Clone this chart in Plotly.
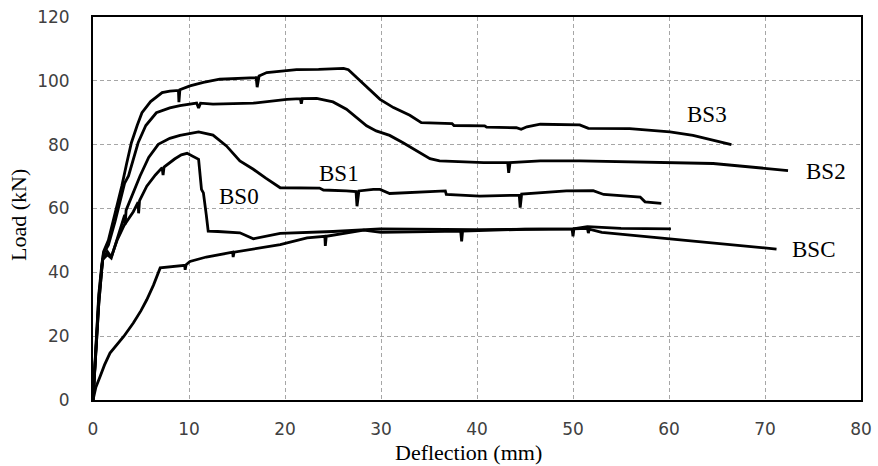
import plotly.graph_objects as go

# ---- data (Deflection mm, Load kN) ----
bs3_x = [0, 0.3, 0.6, 0.9, 1.1, 1.6, 2.2, 3.0, 3.5, 4.0, 4.6, 5.1, 6.0, 7.2, 8.0, 8.9, 8.95, 9.05, 10.1, 11.5, 13.2,
         15.0, 17.0, 17.1, 17.3, 18.1, 19.5, 21.2, 23.5, 26.1, 26.6, 27.5, 28.5, 29.9, 31.3, 33.0, 34.2, 37.4, 37.6,
         40.8, 41.0, 44.1, 44.6, 45.2, 46.6, 50.7, 51.6, 55.9, 60.1, 62.5, 66.5]
bs3_y = [0, 18, 33, 42, 46.5, 50, 57, 67, 74, 80.6, 86, 90, 93.5, 96.3, 96.8, 97, 93.3, 97.2, 98.4, 99.5, 100.5,
         100.8, 101, 98, 101.5, 102.6, 103.0, 103.5, 103.6, 103.9, 103.5, 101, 98, 94.2, 91.6, 89.2, 86.9, 86.6, 86.0,
         85.9, 85.5, 85.3, 84.8, 85.6, 86.4, 86.2, 85.1, 85, 84, 82.9, 80]

bs2_x = [0, 0.3, 0.6, 0.9, 1.1, 1.6, 2.3, 3.3, 3.7, 4.7, 5.5, 6.6, 8.0, 9.06, 10.8, 11.0, 11.2, 12.5, 16.7, 20.2,
         21.6, 21.7, 21.8, 23.3, 25.0, 26.4, 27.5, 28.5, 29.5, 30.9, 32.3, 35.1, 36.1, 40.7, 43.2, 43.3, 43.45, 46.6,
         50.7, 58.0, 64.6, 72.4]
bs2_y = [0, 17, 32, 41, 46, 48.5, 56, 68, 70.2, 80.6, 86, 90, 91.5, 92.2, 93, 91.5, 93, 92.7, 93, 94.2,
         94.4, 92.8, 94.4, 94.5, 93.4, 91.1, 88.5, 85.9, 84.3, 82.9, 80.6, 75.6, 74.9, 74.4, 74.4, 71.2, 74.4, 74.9,
         74.9, 74.4, 74.1, 71.9]

bs1_x = [0, 0.3, 0.6, 1.0, 1.5, 1.9, 2.5, 3.3, 3.35, 3.45, 4.9, 5.8, 6.8, 8.0, 9.06, 11.0, 12.5, 13.9, 15.3, 16.7,
         18.0, 19.5, 23.6, 24.0, 26.4, 27.4, 27.5, 27.7, 29.2, 29.9, 30.9, 36.7, 36.8, 40.3, 44.4, 44.5, 44.65, 49.3,
         52.1, 53.2, 57.0, 57.5, 59.2]
bs1_y = [0, 15, 30, 44, 45.5, 44.5, 50, 58, 55, 59.5, 70.2, 76, 80.1, 82, 82.9, 84, 83, 79.6, 74.9, 72.3,
         69.5, 66.5, 66.4, 65.8, 65.5, 65.3, 60.7, 65.5, 66, 66, 64.7, 65.5, 64.4, 63.9, 64.2, 60.3, 64.5, 65.5,
         65.6, 64.4, 63.6, 62.1, 61.6]

bs0_x = [0, 0.3, 0.6, 1.0, 1.5, 1.9, 2.5, 3.2, 4.2, 4.7, 4.75, 4.85, 5.6, 6.5, 7.2, 7.3, 7.4, 8.5, 9.2, 9.8, 10.6,
         11.0, 11.3, 11.5, 11.8, 12.0, 13.0, 15.3, 16.7, 19.5, 25.0, 29.9, 40.0, 50.0, 51.5, 55.0, 60.2]
bs0_y = [0, 15, 30, 44, 46.5, 44.8, 50, 54.5, 59, 62, 58.5, 62.5, 67, 70.5, 72.8, 70.5, 73, 75.5, 76.8, 77.3, 76,
         75.4, 66, 64.9, 58, 52.9, 52.8, 52.4, 50.5, 52.2, 52.8, 53.6, 53.4, 53.6, 54.3, 53.8, 53.6]

bsc_x = [0, 0.3, 0.73, 1.2, 1.77, 3.2, 4.2, 5.0, 5.6, 6.3, 7.0, 8.4, 9.55, 9.6, 9.7, 10.1, 11.8, 14.55, 14.6, 14.7,
         17.0, 19.5, 22.3, 24.15, 24.2, 24.3, 28.2, 30.0, 38.3, 38.4, 38.5, 45.0, 49.9, 50.0, 50.1, 51.5, 51.6, 51.7,
         53.0, 60.4, 71.2]
bsc_y = [0, 4, 7.3, 11, 14.7, 19.9, 24.1, 28, 31.4, 36, 41.4, 41.9, 42.2, 40.8, 42.4, 43.4, 44.8, 46.3, 44.8, 46.3,
         47.5, 48.7, 50.8, 51.3, 48.3, 51.3, 53.2, 52.5, 52.9, 49.7, 52.9, 53.5, 53.6, 51.3, 53.6, 53.8, 52.3, 53.5,
         52.5, 50.3, 47.3]

series = [("BS3", bs3_x, bs3_y), ("BS2", bs2_x, bs2_y), ("BS1", bs1_x, bs1_y),
          ("BS0", bs0_x, bs0_y), ("BSC", bsc_x, bsc_y)]

label_names = ["BS0", "BS1", "BS3", "BS2", "BSC"]
label_x = [15.2, 25.6, 64.0, 76.4, 75.0]
label_y = [63.8, 71.0, 89.5, 71.6, 47.0]

x_ticks = [0, 10, 20, 30, 40, 50, 60, 70, 80]
y_ticks = [0, 20, 40, 60, 80, 100, 120]

fig = go.Figure()
for name, xs, ys in series:
    fig.add_trace(go.Scatter(x=xs, y=ys, mode="lines", name=name,
                             line=dict(color="black", width=2.8), showlegend=False))

for t, lx, ly in zip(label_names, label_x, label_y):
    fig.add_annotation(x=lx, y=ly, text=t, showarrow=False, xref="x", yref="y",
                       font=dict(family="Liberation Serif", size=23, color="black"))

fig.add_annotation(x=(468 - 93) / 768, y=(400 - 453) / 383, xref="paper", yref="paper",
                   text="Deflection (mm)", showarrow=False, xanchor="center", yanchor="middle",
                   borderpad=0,
                   font=dict(family="Liberation Serif", size=22, color="black"))
fig.add_annotation(x=(19 - 93) / 768, y=(400 - 215) / 383, xref="paper", yref="paper",
                   text="Load (kN)", showarrow=False, textangle=-90, xanchor="center", yanchor="middle",
                   borderpad=0,
                   font=dict(family="Liberation Serif", size=22, color="black"))

axis_common = dict(showline=True, linecolor="black", linewidth=2, mirror=True,
                   showgrid=True, gridcolor="#a6a6a6", griddash="4px,3px", gridwidth=1,
                   zeroline=False, ticks="", automargin=False,
                   tickfont=dict(family="DejaVu Sans", size=17, color="#404040"))

fig.update_xaxes(range=[0, 80], tickvals=x_ticks, ticklabelstandoff=13, **axis_common)
fig.update_yaxes(range=[0, 120], tickvals=y_ticks, ticklabelstandoff=18, **axis_common)

fig.update_layout(width=878, height=466, margin=dict(l=93, r=17, t=17, b=66, autoexpand=False),
                  paper_bgcolor="white", plot_bgcolor="white")

fig.write_html("out.html", config={"displayModeBar": False},
               post_script="document.body.style.margin='0';document.body.style.overflow='hidden';")
